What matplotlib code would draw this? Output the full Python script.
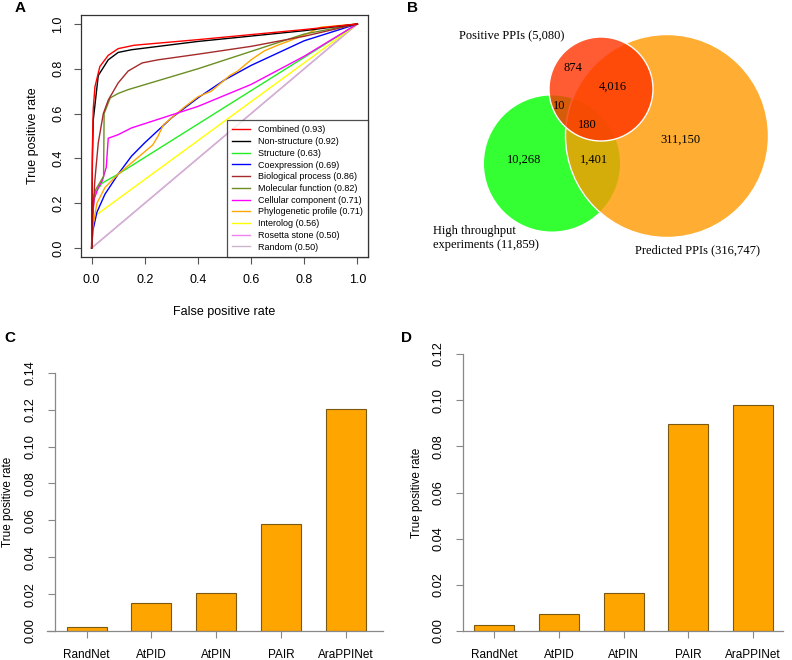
import matplotlib
matplotlib.use('Agg')
import matplotlib.pyplot as plt
from matplotlib.patches import Circle

plt.rcParams['font.family'] = ['Liberation Sans', 'DejaVu Sans']

# panel A: ROC curves (fpr, tpr)
combined_fpr = [0, 0.003, 0.006, 0.0125, 0.031, 0.0625, 0.1, 0.16, 0.4, 0.8, 1]
combined_tpr = [0, 0.45, 0.62, 0.72, 0.81, 0.86, 0.89, 0.905, 0.93, 0.975, 1]
nonstruct_fpr = [0, 0.003, 0.006, 0.025, 0.0625, 0.1, 0.15, 0.4, 0.8, 1]
nonstruct_tpr = [0, 0.4, 0.57, 0.77, 0.84, 0.873, 0.885, 0.922, 0.97, 1]
struct_fpr = [0, 0.002, 0.01, 0.04, 0.1, 1]
struct_tpr = [0, 0.18, 0.24, 0.29, 0.33, 1]
coexp_fpr = [0, 0.005, 0.02, 0.05, 0.1, 0.15, 0.2, 0.3, 0.4, 0.5, 0.6, 0.8, 1]
coexp_tpr = [0, 0.08, 0.16, 0.24, 0.33, 0.41, 0.47, 0.58, 0.67, 0.75, 0.815, 0.925, 1]
bio_fpr = [0, 0.005, 0.012, 0.025, 0.044, 0.0625, 0.1, 0.1375, 0.19, 0.25, 0.4, 0.6, 0.8, 1]
bio_tpr = [0, 0.15, 0.3, 0.47, 0.6, 0.66, 0.737, 0.79, 0.826, 0.84, 0.865, 0.9, 0.945, 1]
mol_fpr = [0, 0.002, 0.015, 0.03, 0.045, 0.047, 0.07, 0.1, 0.1375, 0.4, 0.8, 1]
mol_tpr = [0, 0.2, 0.26, 0.29, 0.32, 0.6, 0.67, 0.69, 0.707, 0.8, 0.955, 1]
cell_fpr = [0, 0.003, 0.01, 0.025, 0.04, 0.055, 0.0625, 0.1, 0.15, 0.4, 0.6, 0.8, 1]
cell_tpr = [0, 0.14, 0.22, 0.27, 0.3, 0.36, 0.49, 0.506, 0.536, 0.632, 0.73, 0.856, 1]
phylo_fpr = [0, 0.005, 0.02, 0.05, 0.1, 0.15, 0.2, 0.23, 0.25, 0.27, 0.3, 0.35, 0.4,
             0.45, 0.5, 0.52, 0.55, 0.6, 0.65, 0.7, 0.8, 0.86, 1]
phylo_tpr = [0, 0.1, 0.2, 0.27, 0.33, 0.38, 0.43, 0.46, 0.5, 0.55, 0.58, 0.63, 0.675,
             0.7, 0.75, 0.77, 0.79, 0.84, 0.88, 0.905, 0.95, 0.985, 1]
interolog_fpr = [0, 0.003, 0.01, 0.02, 1]
interolog_tpr = [0, 0.1, 0.14, 0.15, 1]
rosetta_fpr = [0, 1]
rosetta_tpr = [0, 1]
random_fpr = [0, 1]
random_tpr = [0, 1]

# panel B: venn counts
venn_positive = 5080
venn_high = 11859
venn_predicted = 316747
venn_regions = ['874', '4,016', '10', '180', '311,150', '10,268', '1,401']

# panels C, D
networks = ['RandNet', 'AtPID', 'AtPIN', 'PAIR', 'AraPPINet']
tpr_c = [0.0023, 0.015, 0.0204, 0.058, 0.1201]
tpr_d = [0.0026, 0.0074, 0.0163, 0.0897, 0.098]

W, H = 792, 660


def px_rect(l, t, r, b):
    return [l / W, (H - b) / H, (r - l) / W, (b - t) / H]


fig = plt.figure(figsize=(7.92, 6.6), dpi=100)

# ---- A ----
ax = fig.add_axes(px_rect(81, 15, 368, 257))
curves = [
    (combined_fpr, combined_tpr, '#FF0000', 'Combined (0.93)'),
    (nonstruct_fpr, nonstruct_tpr, '#000000', 'Non-structure (0.92)'),
    (struct_fpr, struct_tpr, '#22EE22', 'Structure (0.63)'),
    (coexp_fpr, coexp_tpr, '#0000FF', 'Coexpression (0.69)'),
    (bio_fpr, bio_tpr, '#A52A2A', 'Biological process (0.86)'),
    (mol_fpr, mol_tpr, '#6B8E23', 'Molecular function (0.82)'),
    (cell_fpr, cell_tpr, '#FF00FF', 'Cellular component (0.71)'),
    (phylo_fpr, phylo_tpr, '#FFA500', 'Phylogenetic profile (0.71)'),
    (interolog_fpr, interolog_tpr, '#FFFF00', 'Interolog (0.56)'),
    (rosetta_fpr, rosetta_tpr, '#EE82EE', 'Rosetta stone (0.50)'),
    (random_fpr, random_tpr, '#CDB5CD', 'Random (0.50)'),
]
order = [9, 10, 8, 2, 3, 7, 6, 5, 4, 1, 0]
lines = {}
for i in order:
    f, t, c, lab = curves[i]
    lines[i], = ax.plot(f, t, color=c, lw=1, label=lab)
leg = ax.legend([lines[i] for i in range(len(curves))], [c[3] for c in curves],
                loc='lower right', bbox_to_anchor=(1, 0), borderaxespad=0,
                fontsize=6.5, frameon=True, fancybox=False, edgecolor='#222222',
                handlelength=1.9, handletextpad=0.9, labelspacing=0.3, borderpad=0.6)
leg.get_frame().set_linewidth(0.9)
ax.set_xlim(-0.04, 1.04)
ax.set_ylim(-0.04, 1.04)
ax.set_xticks([0, 0.2, 0.4, 0.6, 0.8, 1.0])
ax.set_yticks([0, 0.2, 0.4, 0.6, 0.8, 1.0])
ax.set_xticklabels(['0.0', '0.2', '0.4', '0.6', '0.8', '1.0'])
ax.set_yticklabels(['0.0', '0.2', '0.4', '0.6', '0.8', '1.0'], rotation=90, va='center')
ax.tick_params(length=5, width=0.8, color='#555555', labelsize=9, pad=7)
for s in ax.spines.values():
    s.set_color('#333333')
    s.set_linewidth(0.9)
ax.set_xlabel('False positive rate', fontsize=9)
ax.xaxis.set_label_coords(0.5, -0.227)
ax.xaxis.label.set_va('center')
ax.set_ylabel('True positive rate', fontsize=9)
ax.yaxis.set_label_coords(-0.167, 0.5)
ax.yaxis.label.set_va('center')

# ---- B ----
axb = fig.add_axes(px_rect(400, 0, 792, 330))
axb.set_xlim(400, 792)
axb.set_ylim(330, 0)
axb.axis('off')
axb.add_patch(Circle((552, 163.5), 68, facecolor='#00FF00', alpha=0.8, edgecolor='none'))
axb.add_patch(Circle((667, 136), 101.5, facecolor='#FF9900', alpha=0.8, edgecolor='none'))
axb.add_patch(Circle((667, 136), 101.5, facecolor='none', edgecolor='white', lw=1))
axb.add_patch(Circle((601, 89), 52, facecolor='#FF3300', alpha=0.8, edgecolor='none'))
axb.add_patch(Circle((601, 89), 52, facecolor='none', edgecolor='white', lw=1))
serif = ['Liberation Serif', 'DejaVu Serif']
region_xy = [(573, 68), (613, 87), (559, 106), (587, 125), (680, 140), (524, 160), (594, 160)]
for txt, (x, y) in zip(venn_regions, region_xy):
    axb.text(x, y, txt, ha='center', va='center', fontsize=9, family=serif)
axb.text(459, 36, f'Positive PPIs ({venn_positive:,})', ha='left', va='center',
         fontsize=9, family=serif)
axb.text(433, 238, f'High throughput\nexperiments ({venn_high:,})', ha='left', va='center',
         fontsize=9, family=serif, linespacing=1.15)
axb.text(635, 250, f'Predicted PPIs ({venn_predicted:,})', ha='left', va='center',
         fontsize=9, family=serif)


# ---- C, D ----
def bar_panel(rect, vals, top, xlim, left_spine_pos, ylab_x):
    a = fig.add_axes(rect)
    # spine position first, it resets the tick labels
    a.spines['left'].set_position(('axes', left_spine_pos))
    a.bar(range(len(networks)), vals, width=0.616, color='#FFA500',
          edgecolor='#7A5A10', lw=0.8)
    a.set_xlim(*xlim)
    a.set_ylim(0, top)
    ticks = [round(0.02 * k, 2) for k in range(int(round(top / 0.02)) + 1)]
    a.set_yticks(ticks)
    a.set_yticklabels([f'{v:.2f}' for v in ticks], rotation=90, va='center')
    a.set_xticks(range(len(networks)))
    a.set_xticklabels(networks)
    a.spines['top'].set_visible(False)
    a.spines['right'].set_visible(False)
    a.spines['left'].set_bounds(0, top)
    for s in ['left', 'bottom']:
        a.spines[s].set_color('#888888')
        a.spines[s].set_linewidth(0.9)
    a.tick_params(length=5, width=0.8, color='#888888', labelsize=8.5, pad=8)
    a.tick_params(axis='y', labelsize=9.2)
    a.set_ylabel('True positive rate', fontsize=8.5)
    a.yaxis.set_label_coords(ylab_x, 0.5)
    a.yaxis.label.set_va('center')
    return a


bar_panel(px_rect(47, 372.7, 383, 631), tpr_c, 0.14, (-0.61, 4.57), 8 / 336, (8 - 47) / 336)
bar_panel(px_rect(463, 354, 783, 631), tpr_d, 0.12, (-0.48, 4.46), 0, (417 - 463) / 320)

# panel letters
for lab, x, y in [('A', 20, 8), ('B', 412, 8), ('C', 10, 338), ('D', 407, 338)]:
    fig.text(x / W, 1 - y / H, lab, fontsize=11, fontweight='bold', ha='center', va='center')

fig.savefig('out.png', dpi=100)
